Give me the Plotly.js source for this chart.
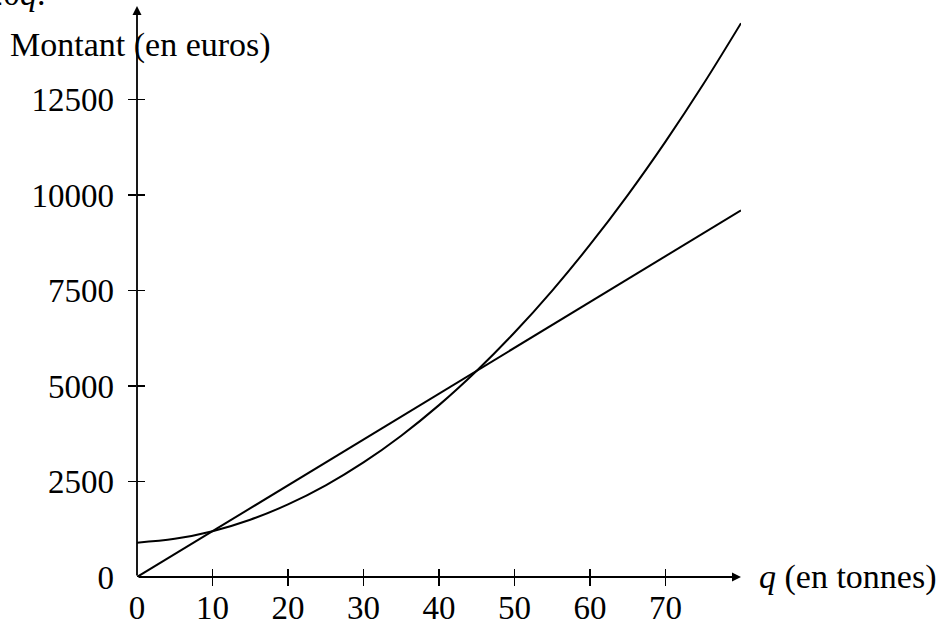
<!DOCTYPE html>
<html>
<head>
<meta charset="utf-8">
<script src="https://cdn.plot.ly/plotly-3.0.1.min.js"></script>
<style>html,body{margin:0;padding:0;background:#fff;}#chart{width:944px;height:624px;}</style>
</head>
<body>
<div id="chart"></div>
<script>
// Data
const qCurve = [0, 5, 10, 15, 20, 25, 30, 35, 40, 45, 50, 55, 60, 65, 70, 75, 80];
const costCurve = [900, 1000, 1200, 1500, 1900, 2400, 3000, 3700, 4500, 5400, 6400, 7500, 8700, 10000, 11400, 12900, 14500];
const qLine = [0, 80];
const revenueLine = [0, 9600];

const xLabelVals = [0, 10, 20, 30, 40, 50, 60, 70];
const xLabelText = ['0', '10', '20', '30', '40', '50', '60', '70'];
const xTickVals = [10, 20, 30, 40, 50, 60, 70];
const yLabelVals = [0, 2500, 5000, 7500, 10000, 12500];
const yLabelText = ['0', '2500', '5000', '7500', '10000', '12500'];
const yTickVals = [2500, 5000, 7500, 10000, 12500];

const xMax = 80;
const yMax = 14950;

const FONT = 'Liberation Serif, Times New Roman, serif';
const TICK_SIZE = 33;
const TITLE_SIZE = 34;

const traces = [
  {x: qCurve, y: costCurve, mode: 'lines', line: {color: '#000', width: 2, shape: 'spline'}, hoverinfo: 'skip', showlegend: false},
  {x: qLine, y: revenueLine, mode: 'lines', line: {color: '#000', width: 2}, hoverinfo: 'skip', showlegend: false},
  {x: [], y: [], xaxis: 'x2', yaxis: 'y', showlegend: false, hoverinfo: 'skip'},
  {x: [], y: [], xaxis: 'x3', yaxis: 'y', showlegend: false, hoverinfo: 'skip'},
  {x: [], y: [], xaxis: 'x', yaxis: 'y2', showlegend: false, hoverinfo: 'skip'},
  {x: [], y: [], xaxis: 'x', yaxis: 'y3', showlegend: false, hoverinfo: 'skip'}
];

const baseX = {range: [0, xMax], showgrid: false, zeroline: false, showline: false, fixedrange: true};
const baseY = {range: [0, yMax], showgrid: false, zeroline: false, showline: false, fixedrange: true};

const layout = {
  width: 944, height: 624,
  margin: {l: 137, r: 203, t: 6, b: 47, pad: 0},
  paper_bgcolor: '#fff', plot_bgcolor: '#fff',
  font: {family: FONT, size: TICK_SIZE, color: '#000'},
  showlegend: false,
  xaxis: Object.assign({}, baseX, {tickmode: 'array', tickvals: xLabelVals, ticktext: xLabelText, ticks: '', ticklabelstandoff: 8, tickfont: {family: FONT, size: TICK_SIZE, color: '#000'}}),
  xaxis2: Object.assign({}, baseX, {overlaying: 'x', anchor: 'y', tickmode: 'array', tickvals: xTickVals, ticks: 'outside', ticklen: 8, tickwidth: 1.6, tickcolor: '#000', showticklabels: false}),
  xaxis3: Object.assign({}, baseX, {overlaying: 'x', anchor: 'y', tickmode: 'array', tickvals: xTickVals, ticks: 'inside', ticklen: 8, tickwidth: 1.6, tickcolor: '#000', showticklabels: false}),
  yaxis: Object.assign({}, baseY, {tickmode: 'array', tickvals: yLabelVals, ticktext: yLabelText, ticks: '', ticklabelstandoff: 22, tickfont: {family: FONT, size: TICK_SIZE, color: '#000'}}),
  yaxis2: Object.assign({}, baseY, {overlaying: 'y', anchor: 'x', tickmode: 'array', tickvals: yTickVals, ticks: 'outside', ticklen: 8, tickwidth: 1.6, tickcolor: '#000', showticklabels: false}),
  yaxis3: Object.assign({}, baseY, {overlaying: 'y', anchor: 'x', tickmode: 'array', tickvals: yTickVals, ticks: 'inside', ticklen: 8, tickwidth: 1.6, tickcolor: '#000', showticklabels: false}),
  annotations: [
    // x axis with arrow
    {x: xMax, y: 0, xref: 'x', yref: 'y', ax: 0, ay: 0, axref: 'x', ayref: 'y', text: '', showarrow: true, arrowhead: 2, arrowsize: 1, arrowwidth: 1.8, arrowcolor: '#000', standoff: 0, startstandoff: 0},
    // y axis with arrow
    {x: 0, y: yMax, xref: 'x', yref: 'y', ax: 0, ay: 0, axref: 'x', ayref: 'y', text: '', showarrow: true, arrowhead: 2, arrowsize: 1, arrowwidth: 1.8, arrowcolor: '#000', standoff: 0, startstandoff: 0},
    {x: 1.027, y: 0, xref: 'paper', yref: 'y', xanchor: 'left', yanchor: 'middle', text: '<i>q</i> (en tonnes)', showarrow: false, font: {family: FONT, size: TITLE_SIZE, color: '#000'}},
    {x: -0.213, y: 13940, xref: 'paper', yref: 'y', xanchor: 'left', yanchor: 'middle', text: 'Montant (en euros)', showarrow: false, font: {family: FONT, size: TITLE_SIZE, color: '#000'}},
    {x: -0.147, y: 14730, xref: 'paper', yref: 'y', xanchor: 'right', yanchor: 'bottom', text: '20<i>q</i>.', showarrow: false, font: {family: FONT, size: TITLE_SIZE, color: '#000'}}
  ]
};

Plotly.newPlot('chart', traces, layout, {displayModeBar: false, staticPlot: true});
</script>
</body>
</html>
